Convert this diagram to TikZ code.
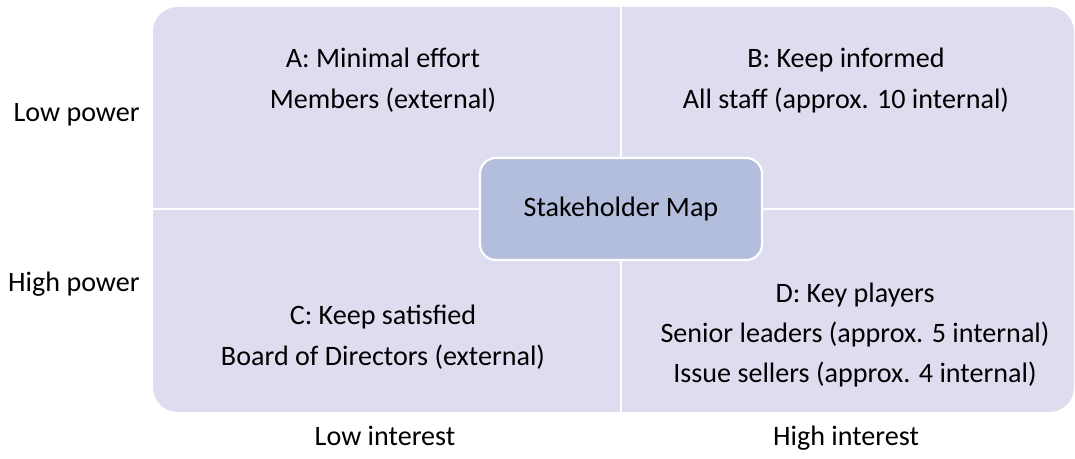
\documentclass[tikz,border=0pt]{standalone}
\usepackage{fontspec}
\setmainfont{Carlito}
\usetikzlibrary{positioning}

\definecolor{quadfill}{RGB}{222,221,240}
\definecolor{mapfill}{RGB}{179,190,220}

\tikzset{
	label/.style={font=\fontsize{16}{19}\selectfont,inner sep=0pt,anchor=base},
	mapbox/.style={draw=white,line width=1.2pt,fill=mapfill,rounded corners=9pt,
		minimum width=5.64cm,minimum height=2.04cm,font=\fontsize{16}{19}\selectfont}
}

\begin{document}
\begin{tikzpicture}[x=0.02cm,y=-0.02cm]
	\useasboundingbox (0,0) rectangle (1075,459);
	
	% the four quadrants: one rounded block cut by white lines
	\fill[quadfill,rounded corners=14pt] (153,7) rectangle (1074,412);
	\draw[white,line width=1.2pt] (621,7) -- (621,412);
	\draw[white,line width=1.2pt] (153,209) -- (1074,209);
	
	% centre box
	\node[mapbox] (map) at (621,209) {Stakeholder Map};
	
	% A: top left
	\node[label] (a1) at (383,68) {A: Minimal effort};
	\node[label] (a2) at (383,109) {Members (external)};
	% B: top right
	\node[label] (b1) at (846,68) {B: Keep informed};
	\node[label] (b2) at (846,109) {All staff (approx. 10 internal)};
	% C: bottom left
	\node[label] (c1) at (383,324) {C: Keep satisfied};
	\node[label] (c2) at (383,365) {Board of Directors (external)};
	% D: bottom right
	\node[label] (d1) at (855,302) {D: Key players};
	\node[label] (d2) at (855,342) {Senior leaders (approx. 5 internal)};
	\node[label] (d3) at (855,382) {Issue sellers (approx. 4 internal)};
	
	% axis texts
	\node[label,anchor=base east] (lowp) at (140,122) {Low power};
	\node[label,anchor=base east] (highp) at (140,292) {High power};
	\node[label] (lowi) at (385,445) {Low interest};
	\node[label] (highi) at (846,445) {High interest};
	
\end{tikzpicture}
\end{document}
